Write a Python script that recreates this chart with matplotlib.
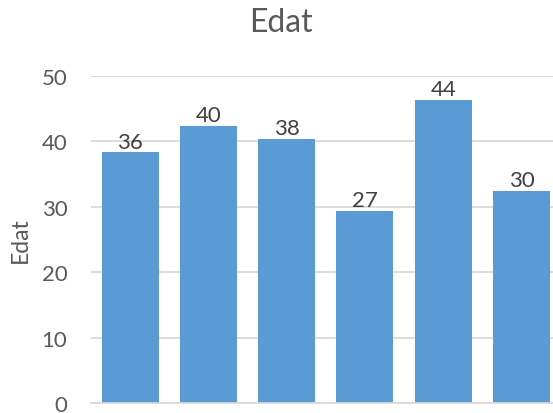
import numpy as np
import matplotlib.pyplot as plt

plt.rcParams['font.family'] = ['Lato', 'DejaVu Sans']

# bar heights as drawn, and the labels printed above them
heights = [38.3, 42.4, 40.35, 29.4, 46.35, 32.4]
labels  = ['36', '40', '38', '27', '44', '30']
y_ticks = [0, 10, 20, 30, 40, 50]

bar_color  = '#5B9BD5'
text_color = '#595959'
grid_color = '#D9D9D9'

fig = plt.figure(figsize=(5.53, 4.14), dpi=100)
ax  = fig.add_axes([0.1646, 0.0234, 0.849, 0.7913])

x = np.arange(len(heights))
bars = ax.bar(x, heights, width=0.73, color=bar_color, zorder=2)
for rect, lab in zip(bars, labels):
    ax.text(rect.get_x() + rect.get_width() / 2, rect.get_height() + 0.1, lab,
            ha='center', va='bottom', fontsize=16, color='#404040')

ax.set_xlim(-0.5, len(heights) - 0.5)
ax.set_ylim(0, 50)
ax.set_yticks(y_ticks)
ax.set_xticks([])
ax.yaxis.grid(True, color=grid_color, linewidth=1.3, zorder=0)
ax.tick_params(axis='y', length=0, pad=17, labelsize=16, labelcolor=text_color)
for side in ['top', 'right', 'left']:
    ax.spines[side].set_visible(False)
ax.spines['bottom'].set_color(grid_color)
ax.spines['bottom'].set_linewidth(1.3)

ax.set_ylabel('Edat', fontsize=16.5, color=text_color)
ax.yaxis.set_label_coords(-0.128, 0.5)
fig.text(0.508, 0.945, 'Edat', ha='center', va='center', fontsize=23, color=text_color)

fig.savefig('out.png', dpi=100)
